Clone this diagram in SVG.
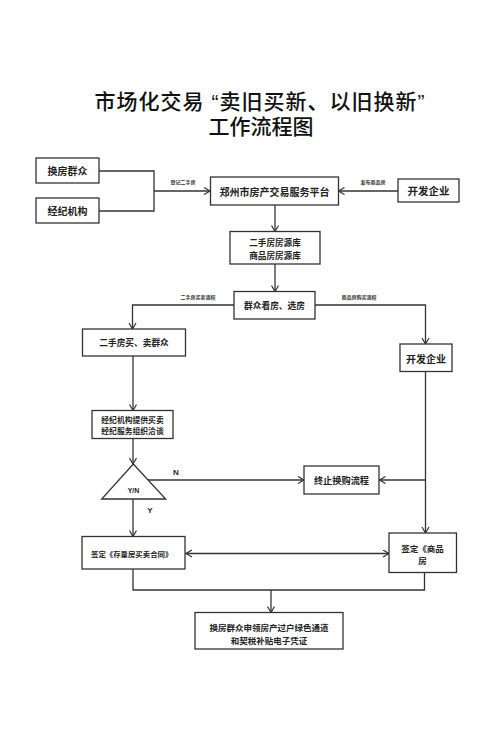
<svg xmlns="http://www.w3.org/2000/svg" width="500" height="742" viewBox="0 0 500 742">
<defs>
<marker id="arr" markerUnits="userSpaceOnUse" markerWidth="10" markerHeight="10" refX="7" refY="4" orient="auto-start-reverse">
<path d="M1,0.5 L7,4 L1,7.5" fill="none" stroke="#333" stroke-width="1.2"/>
</marker>
<style>
.box{fill:#fff;stroke:#333;stroke-width:1.3}
.ln{fill:none;stroke:#333;stroke-width:1.3}
.t{font-family:"Noto Sans CJK SC","Liberation Sans",sans-serif;font-weight:bold;fill:#222;text-anchor:middle;dominant-baseline:central}
.title{font-family:"Liberation Sans","Noto Sans CJK SC",sans-serif;font-weight:500;fill:#111;text-anchor:middle;font-size:21px}
.lbl{font-family:"Noto Sans CJK SC","Liberation Sans",sans-serif;font-weight:bold;fill:#333;text-anchor:middle;font-size:5px}
</style>
</defs>
<rect width="500" height="742" fill="#fff"/>
<g id="title">
<text class="title" x="260" y="109" letter-spacing="1">市场化交易 “卖旧买新、以旧换新”</text>
<text class="title" x="261" y="134">工作流程图</text>
</g>
<g id="connectors">
<path class="ln" d="M99,171 H154 V211 H99"/>
<path class="ln" d="M154,191 H210" marker-end="url(#arr)"/>
<path class="ln" d="M398,191 H338.5" marker-end="url(#arr)"/>
<path class="ln" d="M275,205 V231.5" marker-end="url(#arr)"/>
<path class="ln" d="M275,264 V291.5" marker-end="url(#arr)"/>
<path class="ln" d="M234,305 H132.5 V329" marker-end="url(#arr)"/>
<path class="ln" d="M315,305 H425.5 V344" marker-end="url(#arr)"/>
<path class="ln" d="M133,356 V410.5" marker-end="url(#arr)"/>
<path class="ln" d="M133,438.5 V464" marker-end="url(#arr)"/>
<path class="ln" d="M148,480 H304" marker-end="url(#arr)"/>
<path class="ln" d="M425.5,371.5 V533" marker-end="url(#arr)"/>
<path class="ln" d="M425.5,480 H379.5" marker-end="url(#arr)"/>
<path class="ln" d="M133,499 V536.5" marker-end="url(#arr)"/>
<path class="ln" d="M186,553.5 H389" marker-start="url(#arr)" marker-end="url(#arr)"/>
<path class="ln" d="M133,569 V590 H424.5 V572.5"/>
<path class="ln" d="M271,590 V612.5" marker-end="url(#arr)"/>
<text class="lbl" x="183" y="184">登记二手房</text>
<text class="lbl" x="373" y="184">发布商品房</text>
<text class="lbl" x="198" y="299">二手房买卖流程</text>
<text class="lbl" x="359" y="299">商品房购买流程</text>
<text class="t" x="176" y="472" style="font-size:8px;font-family:'Liberation Sans',sans-serif">N</text>
<text class="t" x="150" y="510" style="font-size:8px;font-family:'Liberation Sans',sans-serif">Y</text>
</g>
<g id="n1"><rect class="box" x="36" y="158" width="63" height="25"/><text class="t" x="67.5" y="170.5" font-size="10">换房群众</text></g>
<g id="n2"><rect class="box" x="36" y="198" width="63" height="25"/><text class="t" x="67.5" y="210.5" font-size="10">经纪机构</text></g>
<g id="n3"><rect class="box" x="210.5" y="177" width="128" height="28"/><text class="t" x="274.5" y="191" font-size="10">郑州市房产交易服务平台</text></g>
<g id="n4"><rect class="box" x="398" y="179" width="61" height="23"/><text class="t" x="428.5" y="190.5" font-size="10.5">开发企业</text></g>
<g id="n5"><rect class="box" x="230" y="231.5" width="90" height="32.5"/><text class="t" x="275" y="242" font-size="8.6">二手房房源库</text><text class="t" x="275" y="254.5" font-size="8.6">商品房房源库</text></g>
<g id="n6"><rect class="box" x="234" y="291.5" width="81" height="27.5"/><text class="t" x="274.5" y="305.5" font-size="8.7">群众看房、选房</text></g>
<g id="n7"><rect class="box" x="82.5" y="329" width="103" height="27"/><text class="t" x="134" y="342.5" font-size="8.7">二手房买、卖群众</text></g>
<g id="n8"><rect class="box" x="400" y="344" width="52" height="27.5"/><text class="t" x="426" y="358" font-size="10">开发企业</text></g>
<g id="n9"><rect class="box" x="92" y="410.5" width="81" height="28"/><text class="t" x="132.5" y="419.5" font-size="7.8">经纪机构提供买卖</text><text class="t" x="132.5" y="430" font-size="7.8">经纪服务组织洽谈</text></g>
<g id="n10"><polygon class="box" points="133.3,464 165.7,499 101.7,499"/><text class="t" x="133.5" y="490" style="font-size:7px;font-family:'Liberation Sans',sans-serif">Y/N</text></g>
<g id="n11"><rect class="box" x="304" y="466" width="75" height="28"/><text class="t" x="341.5" y="480" font-size="9.2">终止换购流程</text></g>
<g id="n12"><rect class="box" x="82" y="536.5" width="103" height="32.5"/><text class="t" x="91" y="553.5" font-size="7.4" style="text-anchor:start">签定《存量房买卖合同》</text></g>
<g id="n13"><rect class="box" x="389" y="533" width="67.5" height="39.5"/><text class="t" x="422.5" y="547.5" font-size="8.5">签定《商品</text><text class="t" x="422.5" y="559.5" font-size="8.5">房</text></g>
<g id="n14"><rect class="box" x="195" y="612.5" width="148" height="36.5"/><text class="t" x="269" y="626.5" font-size="8.5">换房群众申领房产过户绿色通道</text><text class="t" x="269" y="639.5" font-size="8.5">和契税补贴电子凭证</text></g>
</svg>
